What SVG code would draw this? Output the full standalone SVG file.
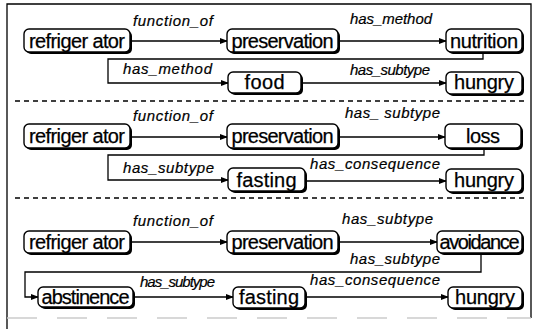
<svg xmlns="http://www.w3.org/2000/svg" width="538" height="329" viewBox="0 0 538 329">
<defs>
<style>
.box{fill:#fff;stroke:#000;stroke-width:1.4}
.sh{fill:#000;stroke:none}
.nt{font-family:"Liberation Sans",Arial,sans-serif;font-size:20px;fill:#000;text-anchor:middle;stroke:#000;stroke-width:0.25}
.el{font-family:"Liberation Sans",Arial,sans-serif;font-size:15px;font-style:italic;fill:#000;stroke:#000;stroke-width:0.2}
.ln{fill:none;stroke:#000;stroke-width:1.3}
.sep{stroke:#000;stroke-width:1.3;stroke-dasharray:5 4}
</style>
<marker id="ar" markerWidth="8" markerHeight="6" refX="7" refY="3" orient="auto" markerUnits="userSpaceOnUse">
<path d="M0,0 L8,3 L0,6 Z" fill="#000"/>
</marker>
</defs>
<rect width="538" height="329" fill="#fff"/>
<path d="M7,329 V4 H531 V318" fill="none" stroke="#000" stroke-width="1.3"/>
<path d="M7,318 H531" fill="none" stroke="#ccc" stroke-width="1.3" stroke-dasharray="30 20"/>
<line class="sep" x1="15" y1="101" x2="528" y2="101"/>
<line class="sep" x1="15" y1="198" x2="528" y2="198"/>
<g id="connectors">
<line class="ln" x1="130" y1="41" x2="227" y2="41" marker-end="url(#ar)"/>
<line class="ln" x1="338" y1="41" x2="446" y2="41" marker-end="url(#ar)"/>
<path class="ln" d="M483,52 V59 H108 V83 H228" marker-end="url(#ar)"/>
<line class="ln" x1="301" y1="83" x2="446" y2="83" marker-end="url(#ar)"/>
<line class="ln" x1="130" y1="137" x2="227" y2="137" marker-end="url(#ar)"/>
<line class="ln" x1="338" y1="137" x2="445" y2="137" marker-end="url(#ar)"/>
<path class="ln" d="M484,148 V155 H108 V180 H228" marker-end="url(#ar)"/>
<line class="ln" x1="305" y1="181" x2="446" y2="181" marker-end="url(#ar)"/>
<line class="ln" x1="130" y1="242" x2="227" y2="242" marker-end="url(#ar)"/>
<line class="ln" x1="338" y1="242" x2="437" y2="242" marker-end="url(#ar)"/>
<path class="ln" d="M481,253 V272 H25 V297 H38" marker-end="url(#ar)"/>
<line class="ln" x1="133" y1="297" x2="233" y2="297" marker-end="url(#ar)"/>
<line class="ln" x1="305" y1="297" x2="448" y2="297" marker-end="url(#ar)"/>
<text class="el" x="133" y="26" textLength="80">function_of</text>
<text class="el" x="350" y="24" textLength="82">has_method</text>
<text class="el" x="123" y="74" textLength="89">has_method</text>
<text class="el" x="350" y="75" textLength="80">has_subtype</text>
<text class="el" x="133" y="121" textLength="80">function_of</text>
<text class="el" x="345" y="118" textLength="95">has_ subtype</text>
<text class="el" x="123" y="173" textLength="91">has_subtype</text>
<text class="el" x="310" y="169" textLength="130">has_consequence</text>
<text class="el" x="133" y="226" textLength="80">function_of</text>
<text class="el" x="342" y="224" textLength="91">has_subtype</text>
<text class="el" x="350" y="264" textLength="90">has_subtype</text>
<text class="el" x="140" y="287" textLength="75">has_subtype</text>
<text class="el" x="310" y="285" textLength="130">has_consequence</text>
</g>
<g id="ref1"><rect class="sh" x="26" y="31" width="106" height="23" rx="5"/><rect class="box" x="24" y="29" width="106" height="23" rx="5"/><text class="nt" x="77" y="47.5" textLength="96">refriger ator</text></g>
<g id="pres1"><rect class="sh" x="229" y="31" width="111" height="23" rx="5"/><rect class="box" x="227" y="29" width="111" height="23" rx="5"/><text class="nt" x="282.5" y="47.5" textLength="102">preservation</text></g>
<g id="nut1"><rect class="sh" x="448" y="31" width="76" height="23" rx="5"/><rect class="box" x="446" y="29" width="76" height="23" rx="5"/><text class="nt" x="484" y="47.5" textLength="68">nutrition</text></g>
<g id="food1"><rect class="sh" x="230" y="74" width="73" height="21" rx="5"/><rect class="box" x="228" y="72" width="73" height="21" rx="5"/><text class="nt" x="264.5" y="89" textLength="40">food</text></g>
<g id="hun1"><rect class="sh" x="448" y="74" width="76" height="22" rx="5"/><rect class="box" x="446" y="72" width="76" height="22" rx="5"/><text class="nt" x="484" y="89" textLength="60">hungry</text></g>
<g id="ref2"><rect class="sh" x="26" y="126" width="106" height="24" rx="5"/><rect class="box" x="24" y="124" width="106" height="24" rx="5"/><text class="nt" x="77" y="143" textLength="96">refriger ator</text></g>
<g id="pres2"><rect class="sh" x="229" y="126" width="111" height="24" rx="5"/><rect class="box" x="227" y="124" width="111" height="24" rx="5"/><text class="nt" x="282.5" y="143" textLength="102">preservation</text></g>
<g id="loss2"><rect class="sh" x="447" y="126" width="76" height="24" rx="5"/><rect class="box" x="445" y="124" width="76" height="24" rx="5"/><text class="nt" x="483" y="143" textLength="34">loss</text></g>
<g id="fast2"><rect class="sh" x="230" y="170" width="77" height="23" rx="5"/><rect class="box" x="228" y="168" width="77" height="23" rx="5"/><text class="nt" x="266.5" y="186.5" textLength="60">fasting</text></g>
<g id="hun2"><rect class="sh" x="448" y="171" width="76" height="23" rx="5"/><rect class="box" x="446" y="169" width="76" height="23" rx="5"/><text class="nt" x="484" y="187" textLength="60">hungry</text></g>
<g id="ref3"><rect class="sh" x="26" y="233" width="106" height="22" rx="5"/><rect class="box" x="24" y="231" width="106" height="22" rx="5"/><text class="nt" x="77" y="249" textLength="96">refriger ator</text></g>
<g id="pres3"><rect class="sh" x="229" y="233" width="111" height="22" rx="5"/><rect class="box" x="227" y="231" width="111" height="22" rx="5"/><text class="nt" x="282.5" y="249" textLength="102">preservation</text></g>
<g id="avoid3"><rect class="sh" x="439" y="233" width="85" height="22" rx="5"/><rect class="box" x="437" y="231" width="85" height="22" rx="5"/><text class="nt" x="479.5" y="249" textLength="80">avoidance</text></g>
<g id="abst3"><rect class="sh" x="40" y="289" width="95" height="20" rx="5"/><rect class="box" x="38" y="287" width="95" height="20" rx="5"/><text class="nt" x="85.5" y="303.5" textLength="88">abstinence</text></g>
<g id="fast3"><rect class="sh" x="235" y="289" width="72" height="21" rx="5"/><rect class="box" x="233" y="287" width="72" height="21" rx="5"/><text class="nt" x="269" y="304" textLength="60">fasting</text></g>
<g id="hun3"><rect class="sh" x="450" y="289" width="74" height="21" rx="5"/><rect class="box" x="448" y="287" width="74" height="21" rx="5"/><text class="nt" x="485" y="304" textLength="60">hungry</text></g>
</svg>
